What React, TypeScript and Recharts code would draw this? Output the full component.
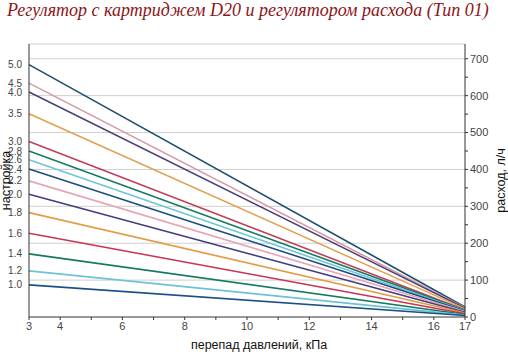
import { LineChart, Line, XAxis, YAxis, CartesianGrid, Label } from "recharts";

const title = "Регулятор с картриджем D20 и регулятором расхода (Тип 01)";
const pressure = [3, 17];
const pressureTicks = [3, 4, 5, 6, 7, 8, 9, 10, 11, 12, 13, 14, 15, 16, 17];
const pressureLabels = [3, 4, 6, 8, 10, 12, 14, 16, 17];
const settings = ["5.0", "4.5", "4.0", "3.5", "3.0", "2.8", "2.6", "2.4", "2.2", "2.0", "1.8", "1.6", "1.4", "1.2", "1.0"];
const flowStart = [684, 634, 610, 551, 476, 450, 426, 401, 369, 333, 283, 227, 171, 125, 87];
const flowEnd = [27, 25, 24, 22, 19, 18, 17, 16, 15, 13, 11, 9, 7, 5, 4];
const colors = ["#1d4f6e", "#d59aa8", "#4a4275", "#e0a050", "#c0405a", "#177a63", "#6cc6d8", "#1c4d80", "#e8a5b5", "#403e80", "#e39c45", "#c83555", "#137a5e", "#6cc2d8", "#1c4f85"];
const flowTicks = [0, 50, 100, 150, 200, 250, 300, 350, 400, 450, 500, 550, 600, 650, 700];
const gridValues = [100, 200, 300, 400, 500, 600, 700, 740];

const data = pressure.map((p, i) => {
  const row: Record<string, number> = { dp: p };
  settings.forEach((s, k) => {
    row["s" + s] = i === 0 ? flowStart[k] : flowEnd[k];
  });
  return row;
});

const tickStyle = { fontSize: 11, fill: "#444", fontFamily: "Liberation Sans, Arial, sans-serif" };
const leftTickStyle = { fontSize: 10, fill: "#444", fontFamily: "Liberation Sans, Arial, sans-serif" };
const labelStyle = { fontSize: 12.5, fill: "#111", fontFamily: "Liberation Sans, Arial, sans-serif" };

export default function App() {
  return (
    <div style={{ position: "absolute", left: 0, top: 0, width: 508, height: 355, background: "#fff" }}>
      <div
        style={{
          position: "absolute",
          left: 7,
          top: 0,
          fontFamily: "Liberation Serif, Times New Roman, serif",
          fontStyle: "italic",
          fontSize: 18,
          color: "#8b1520",
          whiteSpace: "nowrap",
        }}
      >
        {title}
      </div>
      <LineChart width={508} height={355} data={data} margin={{ top: 44, right: 0, bottom: 0, left: 0 }}>
        <CartesianGrid yAxisId="right" vertical={false} stroke="#cfcfcf" horizontalValues={gridValues} />
        <XAxis
          dataKey="dp"
          type="number"
          domain={[3, 17]}
          ticks={pressureTicks}
          interval={0}
          tickFormatter={(v: number) => (pressureLabels.includes(v) ? String(v) : "")}
          height={38}
          tick={tickStyle}
          tickSize={3}
          stroke="#333"
        >
          <Label value="перепад давлений, кПа" position="insideBottom" offset={6} dx={12} style={labelStyle} />
        </XAxis>
        <YAxis
          yAxisId="left"
          type="number"
          domain={[0, 740]}
          ticks={flowStart}
          interval={0}
          tickFormatter={(v: number) => settings[flowStart.indexOf(v)] ?? ""}
          width={29}
          tick={leftTickStyle}
          tickLine={false}
          tickMargin={1}
          stroke="#333"
        >
          <Label value="настройка" angle={-90} position="center" dx={-9} style={labelStyle} />
        </YAxis>
        <YAxis
          yAxisId="right"
          type="number"
          orientation="right"
          domain={[0, 740]}
          ticks={flowTicks}
          interval={0}
          tickFormatter={(v: number) => (v % 100 === 0 ? String(v) : "")}
          width={43}
          tick={tickStyle}
          tickSize={3}
          stroke="#333"
        >
          <Label value="расход, л/ч" angle={-90} position="center" dx={14} style={labelStyle} />
        </YAxis>
        <Line
          yAxisId="left"
          dataKey={"s" + settings[0]}
          stroke="none"
          strokeWidth={0}
          dot={false}
          legendType="none"
          isAnimationActive={false}
        />
        {settings.map((s, k) => (
          <Line
            key={s}
            yAxisId="right"
            dataKey={"s" + s}
            stroke={colors[k]}
            strokeWidth={1.6}
            dot={false}
            isAnimationActive={false}
          />
        ))}
      </LineChart>
    </div>
  );
}
